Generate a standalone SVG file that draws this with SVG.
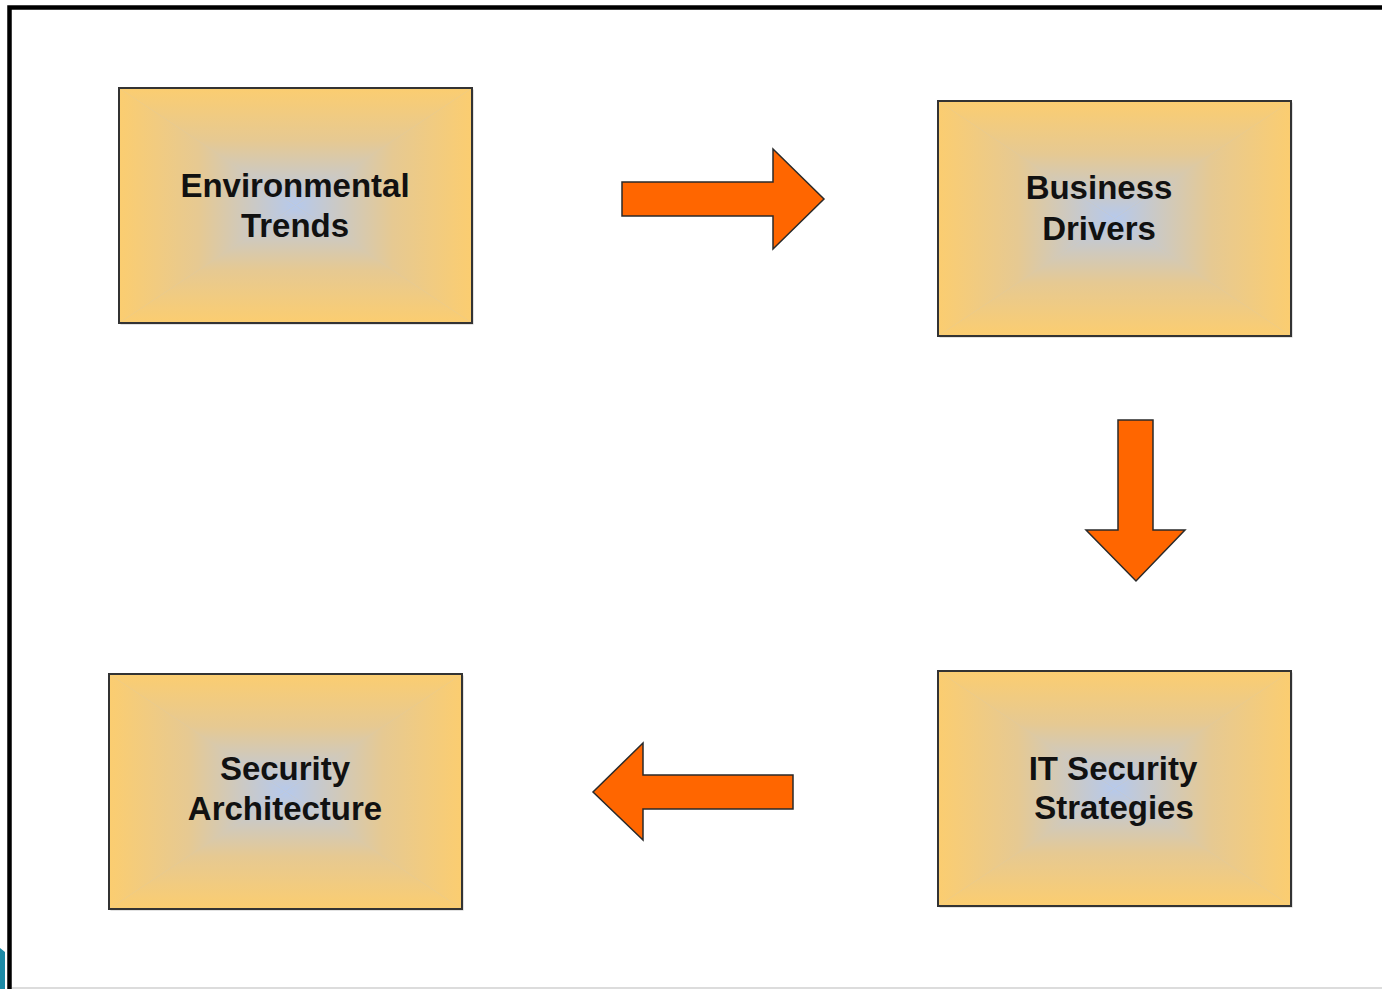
<svg xmlns="http://www.w3.org/2000/svg" xmlns:xlink="http://www.w3.org/1999/xlink" width="1382" height="989" viewBox="0 0 1382 989">
  <style>
    .label { font-family: "Liberation Sans", Arial, Helvetica, sans-serif; font-weight: bold; font-size: 33px; fill: #111; text-anchor: middle; }
    .arrow { fill: #ff6600; stroke: #2a2a2a; stroke-width: 1.5; stroke-linejoin: miter; }
    .boxline { fill: none; stroke: #333; stroke-width: 2; }
    .s0 { stop-color: #fbcd70; }
    .s1 { stop-color: #e6c992; }
    .s2 { stop-color: #b6c9ec; }
  </style>
  <defs>
    <linearGradient id="gT" x1="0" y1="0" x2="0" y2="1">
      <stop offset="0" class="s0"/><stop offset="0.45" class="s1"/><stop offset="1" class="s2"/>
    </linearGradient>
    <linearGradient id="gB" x1="0" y1="1" x2="0" y2="0">
      <stop offset="0" class="s0"/><stop offset="0.45" class="s1"/><stop offset="1" class="s2"/>
    </linearGradient>
    <linearGradient id="gL" x1="0" y1="0" x2="1" y2="0">
      <stop offset="0" class="s0"/><stop offset="0.45" class="s1"/><stop offset="1" class="s2"/>
    </linearGradient>
    <linearGradient id="gR" x1="1" y1="0" x2="0" y2="0">
      <stop offset="0" class="s0"/><stop offset="0.45" class="s1"/><stop offset="1" class="s2"/>
    </linearGradient>
    <g id="box">
      <rect x="1.5" y="1.5" width="353" height="235" fill="#555" opacity="0.35"/>
      <rect x="0" y="0" width="353" height="235" fill="#d8c9a8"/>
      <polygon points="0,0 353,0 176.5,117.5" fill="url(#gT)"/>
      <polygon points="0,235 353,235 176.5,117.5" fill="url(#gB)"/>
      <polygon points="0,0 0,235 176.5,117.5" fill="url(#gL)"/>
      <polygon points="353,0 353,235 176.5,117.5" fill="url(#gR)"/>
      <rect class="boxline" x="0" y="0" width="353" height="235"/>
    </g>
  </defs>

  <rect width="1382" height="989" fill="#ffffff"/>
  <g id="frame">
    <path d="M9.5,989 V7.5 H1382" fill="none" stroke="#000" stroke-width="4.5"/>
    <line x1="12" y1="988" x2="1382" y2="988" stroke="#dcdcdc" stroke-width="2"/>
    <path d="M0,948 L5,952 L5,989 L0,989 Z" fill="#1b8aa6"/>
  </g>

  <g id="node-environmental-trends">
    <use xlink:href="#box" x="119" y="88"/>
    <text class="label" x="295" y="197">Environmental</text>
    <text class="label" x="295" y="237">Trends</text>
  </g>
  <g id="node-business-drivers">
    <use xlink:href="#box" x="938" y="101"/>
    <text class="label" x="1099" y="199">Business</text>
    <text class="label" x="1099" y="240">Drivers</text>
  </g>
  <g id="node-it-security-strategies">
    <use xlink:href="#box" x="938" y="671"/>
    <text class="label" x="1113" y="780">IT Security</text>
    <text class="label" x="1114" y="819">Strategies</text>
  </g>
  <g id="node-security-architecture">
    <use xlink:href="#box" x="109" y="674"/>
    <text class="label" x="285" y="780">Security</text>
    <text class="label" x="285" y="820">Architecture</text>
  </g>

  <g id="connectors">
    <polygon class="arrow" points="622,182 773,182 773,149 824,199 773,249 773,216 622,216"/>
    <polygon class="arrow" points="1118,420 1153,420 1153,530 1185,530 1136,581 1086,530 1118,530"/>
    <polygon class="arrow" points="793,775 643,775 643,743 593,792 643,840 643,809 793,809"/>
  </g>
</svg>
